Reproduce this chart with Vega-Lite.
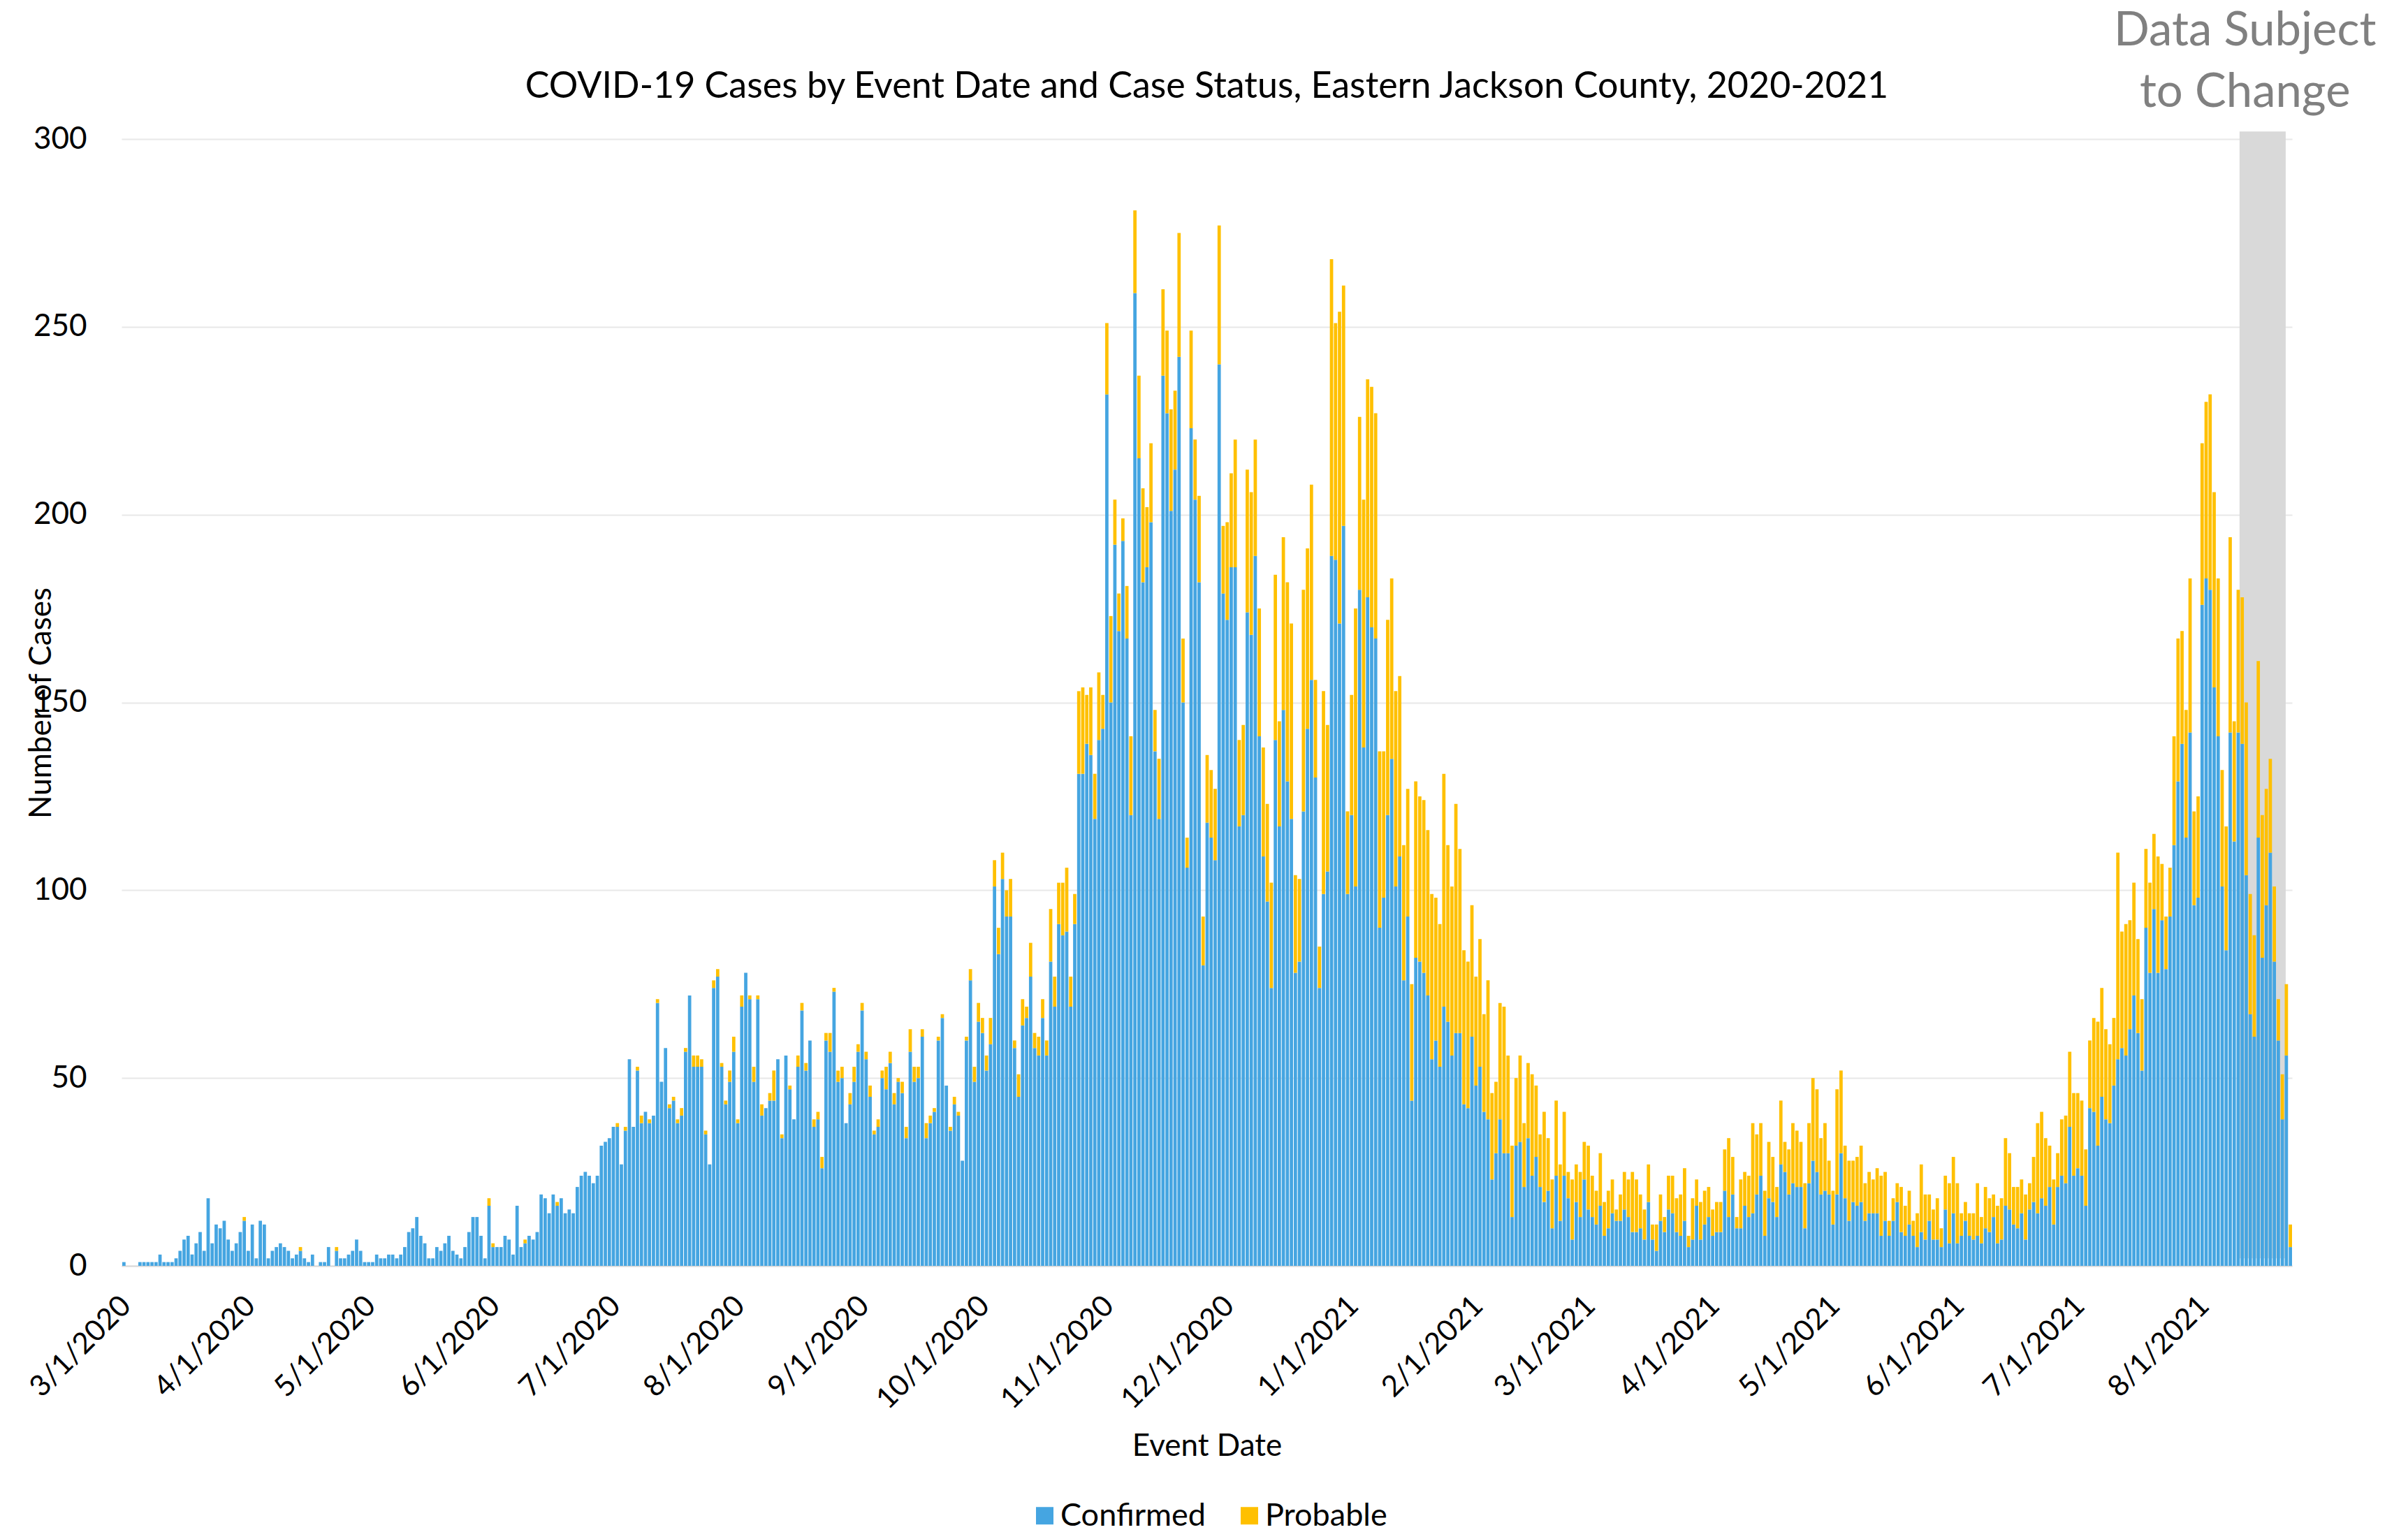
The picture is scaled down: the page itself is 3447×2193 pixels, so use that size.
{
  "$schema": "https://vega.github.io/schema/vega-lite/v6.json",
  "width": 3107,
  "height": 1613,
  "autosize": {"type": "pad"},
  "padding": {"left": 34, "top": 11, "right": 0, "bottom": 0},
  "background": "white",
  "config": {"view": {"stroke": null}, "font": "Lato"},
  "title": {"text": "COVID-19 Cases by Event Date and Case Status, Eastern Jackson County, 2020-2021", "fontSize": 52, "font": "Lato", "fontWeight": "normal", "color": "black", "anchor": "middle", "frame": "group", "offset": -140},
  "datasets": {
    "cases": [
{"d":"2020-03-01","Confirmed":1,"Probable":0},{"d":"2020-03-02","Confirmed":0,"Probable":0},{"d":"2020-03-03","Confirmed":0,"Probable":0},{"d":"2020-03-04","Confirmed":0,"Probable":0},{"d":"2020-03-05","Confirmed":1,"Probable":0},{"d":"2020-03-06","Confirmed":1,"Probable":0},{"d":"2020-03-07","Confirmed":1,"Probable":0},{"d":"2020-03-08","Confirmed":1,"Probable":0},{"d":"2020-03-09","Confirmed":1,"Probable":0},{"d":"2020-03-10","Confirmed":3,"Probable":0},{"d":"2020-03-11","Confirmed":1,"Probable":0},{"d":"2020-03-12","Confirmed":1,"Probable":0},{"d":"2020-03-13","Confirmed":1,"Probable":0},{"d":"2020-03-14","Confirmed":2,"Probable":0},{"d":"2020-03-15","Confirmed":4,"Probable":0},{"d":"2020-03-16","Confirmed":7,"Probable":0},{"d":"2020-03-17","Confirmed":8,"Probable":0},{"d":"2020-03-18","Confirmed":3,"Probable":0},{"d":"2020-03-19","Confirmed":6,"Probable":0},{"d":"2020-03-20","Confirmed":9,"Probable":0},{"d":"2020-03-21","Confirmed":4,"Probable":0},{"d":"2020-03-22","Confirmed":18,"Probable":0},{"d":"2020-03-23","Confirmed":6,"Probable":0},{"d":"2020-03-24","Confirmed":11,"Probable":0},{"d":"2020-03-25","Confirmed":10,"Probable":0},{"d":"2020-03-26","Confirmed":12,"Probable":0},{"d":"2020-03-27","Confirmed":7,"Probable":0},{"d":"2020-03-28","Confirmed":4,"Probable":0},{"d":"2020-03-29","Confirmed":6,"Probable":0},{"d":"2020-03-30","Confirmed":9,"Probable":0},{"d":"2020-03-31","Confirmed":12,"Probable":1},
{"d":"2020-04-01","Confirmed":4,"Probable":0},{"d":"2020-04-02","Confirmed":11,"Probable":0},{"d":"2020-04-03","Confirmed":2,"Probable":0},{"d":"2020-04-04","Confirmed":12,"Probable":0},{"d":"2020-04-05","Confirmed":11,"Probable":0},{"d":"2020-04-06","Confirmed":2,"Probable":0},{"d":"2020-04-07","Confirmed":4,"Probable":0},{"d":"2020-04-08","Confirmed":5,"Probable":0},{"d":"2020-04-09","Confirmed":6,"Probable":0},{"d":"2020-04-10","Confirmed":5,"Probable":0},{"d":"2020-04-11","Confirmed":4,"Probable":0},{"d":"2020-04-12","Confirmed":2,"Probable":0},{"d":"2020-04-13","Confirmed":3,"Probable":0},{"d":"2020-04-14","Confirmed":4,"Probable":1},{"d":"2020-04-15","Confirmed":2,"Probable":0},{"d":"2020-04-16","Confirmed":1,"Probable":0},{"d":"2020-04-17","Confirmed":3,"Probable":0},{"d":"2020-04-18","Confirmed":0,"Probable":0},{"d":"2020-04-19","Confirmed":1,"Probable":0},{"d":"2020-04-20","Confirmed":1,"Probable":0},{"d":"2020-04-21","Confirmed":5,"Probable":0},{"d":"2020-04-22","Confirmed":0,"Probable":0},{"d":"2020-04-23","Confirmed":4,"Probable":1},{"d":"2020-04-24","Confirmed":2,"Probable":0},{"d":"2020-04-25","Confirmed":2,"Probable":0},{"d":"2020-04-26","Confirmed":3,"Probable":0},{"d":"2020-04-27","Confirmed":4,"Probable":0},{"d":"2020-04-28","Confirmed":7,"Probable":0},{"d":"2020-04-29","Confirmed":4,"Probable":0},{"d":"2020-04-30","Confirmed":1,"Probable":0},
{"d":"2020-05-01","Confirmed":1,"Probable":0},{"d":"2020-05-02","Confirmed":1,"Probable":0},{"d":"2020-05-03","Confirmed":3,"Probable":0},{"d":"2020-05-04","Confirmed":2,"Probable":0},{"d":"2020-05-05","Confirmed":2,"Probable":0},{"d":"2020-05-06","Confirmed":3,"Probable":0},{"d":"2020-05-07","Confirmed":3,"Probable":0},{"d":"2020-05-08","Confirmed":2,"Probable":0},{"d":"2020-05-09","Confirmed":3,"Probable":0},{"d":"2020-05-10","Confirmed":5,"Probable":0},{"d":"2020-05-11","Confirmed":9,"Probable":0},{"d":"2020-05-12","Confirmed":10,"Probable":0},{"d":"2020-05-13","Confirmed":13,"Probable":0},{"d":"2020-05-14","Confirmed":8,"Probable":0},{"d":"2020-05-15","Confirmed":6,"Probable":0},{"d":"2020-05-16","Confirmed":2,"Probable":0},{"d":"2020-05-17","Confirmed":2,"Probable":0},{"d":"2020-05-18","Confirmed":5,"Probable":0},{"d":"2020-05-19","Confirmed":4,"Probable":0},{"d":"2020-05-20","Confirmed":6,"Probable":0},{"d":"2020-05-21","Confirmed":8,"Probable":0},{"d":"2020-05-22","Confirmed":4,"Probable":0},{"d":"2020-05-23","Confirmed":3,"Probable":0},{"d":"2020-05-24","Confirmed":2,"Probable":0},{"d":"2020-05-25","Confirmed":5,"Probable":0},{"d":"2020-05-26","Confirmed":9,"Probable":0},{"d":"2020-05-27","Confirmed":13,"Probable":0},{"d":"2020-05-28","Confirmed":13,"Probable":0},{"d":"2020-05-29","Confirmed":8,"Probable":0},{"d":"2020-05-30","Confirmed":2,"Probable":0},{"d":"2020-05-31","Confirmed":16,"Probable":2},
{"d":"2020-06-01","Confirmed":5,"Probable":1},{"d":"2020-06-02","Confirmed":5,"Probable":0},{"d":"2020-06-03","Confirmed":5,"Probable":0},{"d":"2020-06-04","Confirmed":8,"Probable":0},{"d":"2020-06-05","Confirmed":7,"Probable":0},{"d":"2020-06-06","Confirmed":3,"Probable":0},{"d":"2020-06-07","Confirmed":16,"Probable":0},{"d":"2020-06-08","Confirmed":5,"Probable":0},{"d":"2020-06-09","Confirmed":6,"Probable":1},{"d":"2020-06-10","Confirmed":8,"Probable":0},{"d":"2020-06-11","Confirmed":7,"Probable":0},{"d":"2020-06-12","Confirmed":9,"Probable":0},{"d":"2020-06-13","Confirmed":19,"Probable":0},{"d":"2020-06-14","Confirmed":18,"Probable":0},{"d":"2020-06-15","Confirmed":14,"Probable":0},{"d":"2020-06-16","Confirmed":19,"Probable":0},{"d":"2020-06-17","Confirmed":16,"Probable":1},{"d":"2020-06-18","Confirmed":18,"Probable":0},{"d":"2020-06-19","Confirmed":14,"Probable":0},{"d":"2020-06-20","Confirmed":15,"Probable":0},{"d":"2020-06-21","Confirmed":14,"Probable":0},{"d":"2020-06-22","Confirmed":21,"Probable":0},{"d":"2020-06-23","Confirmed":24,"Probable":0},{"d":"2020-06-24","Confirmed":25,"Probable":0},{"d":"2020-06-25","Confirmed":24,"Probable":0},{"d":"2020-06-26","Confirmed":22,"Probable":0},{"d":"2020-06-27","Confirmed":24,"Probable":0},{"d":"2020-06-28","Confirmed":32,"Probable":0},{"d":"2020-06-29","Confirmed":33,"Probable":0},{"d":"2020-06-30","Confirmed":34,"Probable":0},
{"d":"2020-07-01","Confirmed":37,"Probable":0},{"d":"2020-07-02","Confirmed":37,"Probable":1},{"d":"2020-07-03","Confirmed":27,"Probable":0},{"d":"2020-07-04","Confirmed":36,"Probable":1},{"d":"2020-07-05","Confirmed":55,"Probable":0},{"d":"2020-07-06","Confirmed":37,"Probable":0},{"d":"2020-07-07","Confirmed":52,"Probable":1},{"d":"2020-07-08","Confirmed":38,"Probable":2},{"d":"2020-07-09","Confirmed":41,"Probable":0},{"d":"2020-07-10","Confirmed":38,"Probable":1},{"d":"2020-07-11","Confirmed":40,"Probable":0},{"d":"2020-07-12","Confirmed":70,"Probable":1},{"d":"2020-07-13","Confirmed":49,"Probable":0},{"d":"2020-07-14","Confirmed":58,"Probable":0},{"d":"2020-07-15","Confirmed":42,"Probable":1},{"d":"2020-07-16","Confirmed":44,"Probable":1},{"d":"2020-07-17","Confirmed":38,"Probable":1},{"d":"2020-07-18","Confirmed":40,"Probable":2},{"d":"2020-07-19","Confirmed":57,"Probable":1},{"d":"2020-07-20","Confirmed":72,"Probable":0},{"d":"2020-07-21","Confirmed":53,"Probable":3},{"d":"2020-07-22","Confirmed":53,"Probable":3},{"d":"2020-07-23","Confirmed":53,"Probable":2},{"d":"2020-07-24","Confirmed":35,"Probable":1},{"d":"2020-07-25","Confirmed":27,"Probable":0},{"d":"2020-07-26","Confirmed":74,"Probable":2},{"d":"2020-07-27","Confirmed":77,"Probable":2},{"d":"2020-07-28","Confirmed":53,"Probable":1},{"d":"2020-07-29","Confirmed":43,"Probable":1},{"d":"2020-07-30","Confirmed":49,"Probable":3},{"d":"2020-07-31","Confirmed":57,"Probable":4},
{"d":"2020-08-01","Confirmed":38,"Probable":1},{"d":"2020-08-02","Confirmed":69,"Probable":3},{"d":"2020-08-03","Confirmed":78,"Probable":0},{"d":"2020-08-04","Confirmed":71,"Probable":1},{"d":"2020-08-05","Confirmed":49,"Probable":4},{"d":"2020-08-06","Confirmed":71,"Probable":1},{"d":"2020-08-07","Confirmed":40,"Probable":3},{"d":"2020-08-08","Confirmed":42,"Probable":0},{"d":"2020-08-09","Confirmed":44,"Probable":2},{"d":"2020-08-10","Confirmed":44,"Probable":8},{"d":"2020-08-11","Confirmed":55,"Probable":0},{"d":"2020-08-12","Confirmed":34,"Probable":1},{"d":"2020-08-13","Confirmed":56,"Probable":0},{"d":"2020-08-14","Confirmed":47,"Probable":1},{"d":"2020-08-15","Confirmed":39,"Probable":0},{"d":"2020-08-16","Confirmed":53,"Probable":3},{"d":"2020-08-17","Confirmed":68,"Probable":2},{"d":"2020-08-18","Confirmed":52,"Probable":2},{"d":"2020-08-19","Confirmed":60,"Probable":0},{"d":"2020-08-20","Confirmed":37,"Probable":2},{"d":"2020-08-21","Confirmed":39,"Probable":2},{"d":"2020-08-22","Confirmed":26,"Probable":3},{"d":"2020-08-23","Confirmed":60,"Probable":2},{"d":"2020-08-24","Confirmed":57,"Probable":5},{"d":"2020-08-25","Confirmed":73,"Probable":1},{"d":"2020-08-26","Confirmed":49,"Probable":3},{"d":"2020-08-27","Confirmed":50,"Probable":3},{"d":"2020-08-28","Confirmed":38,"Probable":0},{"d":"2020-08-29","Confirmed":43,"Probable":3},{"d":"2020-08-30","Confirmed":49,"Probable":4},{"d":"2020-08-31","Confirmed":57,"Probable":2},
{"d":"2020-09-01","Confirmed":68,"Probable":2},{"d":"2020-09-02","Confirmed":55,"Probable":2},{"d":"2020-09-03","Confirmed":45,"Probable":3},{"d":"2020-09-04","Confirmed":35,"Probable":1},{"d":"2020-09-05","Confirmed":37,"Probable":2},{"d":"2020-09-06","Confirmed":50,"Probable":2},{"d":"2020-09-07","Confirmed":47,"Probable":6},{"d":"2020-09-08","Confirmed":54,"Probable":3},{"d":"2020-09-09","Confirmed":43,"Probable":3},{"d":"2020-09-10","Confirmed":49,"Probable":1},{"d":"2020-09-11","Confirmed":46,"Probable":3},{"d":"2020-09-12","Confirmed":34,"Probable":3},{"d":"2020-09-13","Confirmed":57,"Probable":6},{"d":"2020-09-14","Confirmed":49,"Probable":4},{"d":"2020-09-15","Confirmed":50,"Probable":3},{"d":"2020-09-16","Confirmed":61,"Probable":2},{"d":"2020-09-17","Confirmed":34,"Probable":4},{"d":"2020-09-18","Confirmed":38,"Probable":2},{"d":"2020-09-19","Confirmed":41,"Probable":1},{"d":"2020-09-20","Confirmed":60,"Probable":1},{"d":"2020-09-21","Confirmed":66,"Probable":1},{"d":"2020-09-22","Confirmed":48,"Probable":0},{"d":"2020-09-23","Confirmed":36,"Probable":1},{"d":"2020-09-24","Confirmed":43,"Probable":2},{"d":"2020-09-25","Confirmed":40,"Probable":1},{"d":"2020-09-26","Confirmed":28,"Probable":0},{"d":"2020-09-27","Confirmed":60,"Probable":1},{"d":"2020-09-28","Confirmed":76,"Probable":3},{"d":"2020-09-29","Confirmed":49,"Probable":4},{"d":"2020-09-30","Confirmed":65,"Probable":5},
{"d":"2020-10-01","Confirmed":62,"Probable":4},{"d":"2020-10-02","Confirmed":52,"Probable":4},{"d":"2020-10-03","Confirmed":59,"Probable":7},{"d":"2020-10-04","Confirmed":101,"Probable":7},{"d":"2020-10-05","Confirmed":83,"Probable":7},{"d":"2020-10-06","Confirmed":103,"Probable":7},{"d":"2020-10-07","Confirmed":93,"Probable":7},{"d":"2020-10-08","Confirmed":93,"Probable":10},{"d":"2020-10-09","Confirmed":58,"Probable":2},{"d":"2020-10-10","Confirmed":45,"Probable":6},{"d":"2020-10-11","Confirmed":64,"Probable":7},{"d":"2020-10-12","Confirmed":66,"Probable":3},{"d":"2020-10-13","Confirmed":77,"Probable":9},{"d":"2020-10-14","Confirmed":58,"Probable":4},{"d":"2020-10-15","Confirmed":56,"Probable":5},{"d":"2020-10-16","Confirmed":66,"Probable":5},{"d":"2020-10-17","Confirmed":56,"Probable":4},{"d":"2020-10-18","Confirmed":81,"Probable":14},{"d":"2020-10-19","Confirmed":69,"Probable":8},{"d":"2020-10-20","Confirmed":91,"Probable":11},{"d":"2020-10-21","Confirmed":88,"Probable":14},{"d":"2020-10-22","Confirmed":89,"Probable":17},{"d":"2020-10-23","Confirmed":69,"Probable":8},{"d":"2020-10-24","Confirmed":91,"Probable":8},{"d":"2020-10-25","Confirmed":131,"Probable":22},{"d":"2020-10-26","Confirmed":131,"Probable":23},{"d":"2020-10-27","Confirmed":139,"Probable":13},{"d":"2020-10-28","Confirmed":136,"Probable":18},{"d":"2020-10-29","Confirmed":119,"Probable":12},{"d":"2020-10-30","Confirmed":140,"Probable":18},{"d":"2020-10-31","Confirmed":143,"Probable":9},
{"d":"2020-11-01","Confirmed":232,"Probable":19},{"d":"2020-11-02","Confirmed":150,"Probable":23},{"d":"2020-11-03","Confirmed":192,"Probable":12},{"d":"2020-11-04","Confirmed":169,"Probable":10},{"d":"2020-11-05","Confirmed":193,"Probable":6},{"d":"2020-11-06","Confirmed":167,"Probable":14},{"d":"2020-11-07","Confirmed":120,"Probable":21},{"d":"2020-11-08","Confirmed":259,"Probable":22},{"d":"2020-11-09","Confirmed":215,"Probable":22},{"d":"2020-11-10","Confirmed":182,"Probable":25},{"d":"2020-11-11","Confirmed":186,"Probable":16},{"d":"2020-11-12","Confirmed":198,"Probable":21},{"d":"2020-11-13","Confirmed":137,"Probable":11},{"d":"2020-11-14","Confirmed":119,"Probable":16},{"d":"2020-11-15","Confirmed":237,"Probable":23},{"d":"2020-11-16","Confirmed":227,"Probable":22},{"d":"2020-11-17","Confirmed":201,"Probable":27},{"d":"2020-11-18","Confirmed":212,"Probable":21},{"d":"2020-11-19","Confirmed":242,"Probable":33},{"d":"2020-11-20","Confirmed":150,"Probable":17},{"d":"2020-11-21","Confirmed":106,"Probable":8},{"d":"2020-11-22","Confirmed":223,"Probable":26},{"d":"2020-11-23","Confirmed":204,"Probable":16},{"d":"2020-11-24","Confirmed":182,"Probable":23},{"d":"2020-11-25","Confirmed":80,"Probable":13},{"d":"2020-11-26","Confirmed":118,"Probable":18},{"d":"2020-11-27","Confirmed":114,"Probable":18},{"d":"2020-11-28","Confirmed":108,"Probable":19},{"d":"2020-11-29","Confirmed":240,"Probable":37},{"d":"2020-11-30","Confirmed":179,"Probable":18},
{"d":"2020-12-01","Confirmed":172,"Probable":26},{"d":"2020-12-02","Confirmed":186,"Probable":25},{"d":"2020-12-03","Confirmed":186,"Probable":34},{"d":"2020-12-04","Confirmed":117,"Probable":23},{"d":"2020-12-05","Confirmed":120,"Probable":24},{"d":"2020-12-06","Confirmed":174,"Probable":38},{"d":"2020-12-07","Confirmed":168,"Probable":38},{"d":"2020-12-08","Confirmed":189,"Probable":31},{"d":"2020-12-09","Confirmed":141,"Probable":34},{"d":"2020-12-10","Confirmed":109,"Probable":29},{"d":"2020-12-11","Confirmed":97,"Probable":26},{"d":"2020-12-12","Confirmed":74,"Probable":28},{"d":"2020-12-13","Confirmed":140,"Probable":44},{"d":"2020-12-14","Confirmed":117,"Probable":28},{"d":"2020-12-15","Confirmed":148,"Probable":46},{"d":"2020-12-16","Confirmed":129,"Probable":53},{"d":"2020-12-17","Confirmed":119,"Probable":52},{"d":"2020-12-18","Confirmed":78,"Probable":26},{"d":"2020-12-19","Confirmed":81,"Probable":22},{"d":"2020-12-20","Confirmed":121,"Probable":59},{"d":"2020-12-21","Confirmed":143,"Probable":48},{"d":"2020-12-22","Confirmed":156,"Probable":52},{"d":"2020-12-23","Confirmed":130,"Probable":26},{"d":"2020-12-24","Confirmed":74,"Probable":11},{"d":"2020-12-25","Confirmed":99,"Probable":54},{"d":"2020-12-26","Confirmed":105,"Probable":39},{"d":"2020-12-27","Confirmed":189,"Probable":79},{"d":"2020-12-28","Confirmed":188,"Probable":63},{"d":"2020-12-29","Confirmed":171,"Probable":83},{"d":"2020-12-30","Confirmed":197,"Probable":64},{"d":"2020-12-31","Confirmed":99,"Probable":22},
{"d":"2021-01-01","Confirmed":120,"Probable":32},{"d":"2021-01-02","Confirmed":101,"Probable":74},{"d":"2021-01-03","Confirmed":180,"Probable":46},{"d":"2021-01-04","Confirmed":138,"Probable":66},{"d":"2021-01-05","Confirmed":178,"Probable":58},{"d":"2021-01-06","Confirmed":170,"Probable":64},{"d":"2021-01-07","Confirmed":167,"Probable":60},{"d":"2021-01-08","Confirmed":90,"Probable":47},{"d":"2021-01-09","Confirmed":98,"Probable":39},{"d":"2021-01-10","Confirmed":120,"Probable":52},{"d":"2021-01-11","Confirmed":135,"Probable":48},{"d":"2021-01-12","Confirmed":101,"Probable":52},{"d":"2021-01-13","Confirmed":109,"Probable":48},{"d":"2021-01-14","Confirmed":76,"Probable":36},{"d":"2021-01-15","Confirmed":93,"Probable":34},{"d":"2021-01-16","Confirmed":44,"Probable":31},{"d":"2021-01-17","Confirmed":82,"Probable":47},{"d":"2021-01-18","Confirmed":81,"Probable":44},{"d":"2021-01-19","Confirmed":78,"Probable":46},{"d":"2021-01-20","Confirmed":72,"Probable":44},{"d":"2021-01-21","Confirmed":55,"Probable":44},{"d":"2021-01-22","Confirmed":60,"Probable":38},{"d":"2021-01-23","Confirmed":53,"Probable":38},{"d":"2021-01-24","Confirmed":69,"Probable":62},{"d":"2021-01-25","Confirmed":65,"Probable":47},{"d":"2021-01-26","Confirmed":56,"Probable":45},{"d":"2021-01-27","Confirmed":62,"Probable":61},{"d":"2021-01-28","Confirmed":62,"Probable":49},{"d":"2021-01-29","Confirmed":43,"Probable":41},{"d":"2021-01-30","Confirmed":42,"Probable":39},{"d":"2021-01-31","Confirmed":61,"Probable":35},
{"d":"2021-02-01","Confirmed":48,"Probable":29},{"d":"2021-02-02","Confirmed":53,"Probable":34},{"d":"2021-02-03","Confirmed":41,"Probable":26},{"d":"2021-02-04","Confirmed":39,"Probable":37},{"d":"2021-02-05","Confirmed":23,"Probable":23},{"d":"2021-02-06","Confirmed":30,"Probable":19},{"d":"2021-02-07","Confirmed":39,"Probable":31},{"d":"2021-02-08","Confirmed":30,"Probable":39},{"d":"2021-02-09","Confirmed":30,"Probable":26},{"d":"2021-02-10","Confirmed":13,"Probable":19},{"d":"2021-02-11","Confirmed":32,"Probable":18},{"d":"2021-02-12","Confirmed":33,"Probable":23},{"d":"2021-02-13","Confirmed":21,"Probable":17},{"d":"2021-02-14","Confirmed":34,"Probable":20},{"d":"2021-02-15","Confirmed":24,"Probable":27},{"d":"2021-02-16","Confirmed":29,"Probable":19},{"d":"2021-02-17","Confirmed":21,"Probable":14},{"d":"2021-02-18","Confirmed":17,"Probable":24},{"d":"2021-02-19","Confirmed":20,"Probable":14},{"d":"2021-02-20","Confirmed":10,"Probable":13},{"d":"2021-02-21","Confirmed":24,"Probable":20},{"d":"2021-02-22","Confirmed":12,"Probable":15},{"d":"2021-02-23","Confirmed":24,"Probable":17},{"d":"2021-02-24","Confirmed":18,"Probable":7},{"d":"2021-02-25","Confirmed":7,"Probable":16},{"d":"2021-02-26","Confirmed":17,"Probable":10},{"d":"2021-02-27","Confirmed":13,"Probable":12},{"d":"2021-02-28","Confirmed":23,"Probable":10},
{"d":"2021-03-01","Confirmed":15,"Probable":17},{"d":"2021-03-02","Confirmed":13,"Probable":11},{"d":"2021-03-03","Confirmed":11,"Probable":9},{"d":"2021-03-04","Confirmed":16,"Probable":14},{"d":"2021-03-05","Confirmed":8,"Probable":9},{"d":"2021-03-06","Confirmed":10,"Probable":10},{"d":"2021-03-07","Confirmed":14,"Probable":9},{"d":"2021-03-08","Confirmed":12,"Probable":3},{"d":"2021-03-09","Confirmed":12,"Probable":7},{"d":"2021-03-10","Confirmed":15,"Probable":10},{"d":"2021-03-11","Confirmed":13,"Probable":10},{"d":"2021-03-12","Confirmed":9,"Probable":16},{"d":"2021-03-13","Confirmed":9,"Probable":14},{"d":"2021-03-14","Confirmed":10,"Probable":9},{"d":"2021-03-15","Confirmed":7,"Probable":8},{"d":"2021-03-16","Confirmed":17,"Probable":10},{"d":"2021-03-17","Confirmed":7,"Probable":4},{"d":"2021-03-18","Confirmed":4,"Probable":7},{"d":"2021-03-19","Confirmed":12,"Probable":7},{"d":"2021-03-20","Confirmed":9,"Probable":4},{"d":"2021-03-21","Confirmed":15,"Probable":9},{"d":"2021-03-22","Confirmed":14,"Probable":10},{"d":"2021-03-23","Confirmed":9,"Probable":9},{"d":"2021-03-24","Confirmed":8,"Probable":11},{"d":"2021-03-25","Confirmed":12,"Probable":14},{"d":"2021-03-26","Confirmed":5,"Probable":3},{"d":"2021-03-27","Confirmed":7,"Probable":11},{"d":"2021-03-28","Confirmed":16,"Probable":7},{"d":"2021-03-29","Confirmed":7,"Probable":10},{"d":"2021-03-30","Confirmed":11,"Probable":9},{"d":"2021-03-31","Confirmed":13,"Probable":8},
{"d":"2021-04-01","Confirmed":8,"Probable":7},{"d":"2021-04-02","Confirmed":9,"Probable":8},{"d":"2021-04-03","Confirmed":9,"Probable":8},{"d":"2021-04-04","Confirmed":20,"Probable":11},{"d":"2021-04-05","Confirmed":13,"Probable":21},{"d":"2021-04-06","Confirmed":19,"Probable":10},{"d":"2021-04-07","Confirmed":10,"Probable":3},{"d":"2021-04-08","Confirmed":10,"Probable":13},{"d":"2021-04-09","Confirmed":16,"Probable":9},{"d":"2021-04-10","Confirmed":13,"Probable":11},{"d":"2021-04-11","Confirmed":14,"Probable":24},{"d":"2021-04-12","Confirmed":19,"Probable":16},{"d":"2021-04-13","Confirmed":24,"Probable":14},{"d":"2021-04-14","Confirmed":8,"Probable":12},{"d":"2021-04-15","Confirmed":18,"Probable":15},{"d":"2021-04-16","Confirmed":17,"Probable":12},{"d":"2021-04-17","Confirmed":13,"Probable":8},{"d":"2021-04-18","Confirmed":27,"Probable":17},{"d":"2021-04-19","Confirmed":25,"Probable":8},{"d":"2021-04-20","Confirmed":19,"Probable":12},{"d":"2021-04-21","Confirmed":22,"Probable":16},{"d":"2021-04-22","Confirmed":21,"Probable":15},{"d":"2021-04-23","Confirmed":21,"Probable":12},{"d":"2021-04-24","Confirmed":10,"Probable":12},{"d":"2021-04-25","Confirmed":22,"Probable":16},{"d":"2021-04-26","Confirmed":28,"Probable":22},{"d":"2021-04-27","Confirmed":25,"Probable":22},{"d":"2021-04-28","Confirmed":19,"Probable":15},{"d":"2021-04-29","Confirmed":20,"Probable":18},{"d":"2021-04-30","Confirmed":19,"Probable":9},
{"d":"2021-05-01","Confirmed":11,"Probable":9},{"d":"2021-05-02","Confirmed":19,"Probable":28},{"d":"2021-05-03","Confirmed":30,"Probable":22},{"d":"2021-05-04","Confirmed":18,"Probable":14},{"d":"2021-05-05","Confirmed":12,"Probable":16},{"d":"2021-05-06","Confirmed":17,"Probable":11},{"d":"2021-05-07","Confirmed":16,"Probable":13},{"d":"2021-05-08","Confirmed":17,"Probable":15},{"d":"2021-05-09","Confirmed":12,"Probable":10},{"d":"2021-05-10","Confirmed":14,"Probable":11},{"d":"2021-05-11","Confirmed":14,"Probable":9},{"d":"2021-05-12","Confirmed":14,"Probable":12},{"d":"2021-05-13","Confirmed":8,"Probable":16},{"d":"2021-05-14","Confirmed":12,"Probable":13},{"d":"2021-05-15","Confirmed":8,"Probable":4},{"d":"2021-05-16","Confirmed":12,"Probable":6},{"d":"2021-05-17","Confirmed":17,"Probable":5},{"d":"2021-05-18","Confirmed":9,"Probable":12},{"d":"2021-05-19","Confirmed":8,"Probable":8},{"d":"2021-05-20","Confirmed":11,"Probable":9},{"d":"2021-05-21","Confirmed":8,"Probable":4},{"d":"2021-05-22","Confirmed":5,"Probable":9},{"d":"2021-05-23","Confirmed":9,"Probable":18},{"d":"2021-05-24","Confirmed":7,"Probable":12},{"d":"2021-05-25","Confirmed":12,"Probable":7},{"d":"2021-05-26","Confirmed":7,"Probable":8},{"d":"2021-05-27","Confirmed":7,"Probable":11},{"d":"2021-05-28","Confirmed":5,"Probable":5},{"d":"2021-05-29","Confirmed":15,"Probable":9},{"d":"2021-05-30","Confirmed":6,"Probable":16},{"d":"2021-05-31","Confirmed":14,"Probable":15},
{"d":"2021-06-01","Confirmed":6,"Probable":16},{"d":"2021-06-02","Confirmed":8,"Probable":6},{"d":"2021-06-03","Confirmed":12,"Probable":5},{"d":"2021-06-04","Confirmed":8,"Probable":6},{"d":"2021-06-05","Confirmed":7,"Probable":7},{"d":"2021-06-06","Confirmed":8,"Probable":14},{"d":"2021-06-07","Confirmed":6,"Probable":7},{"d":"2021-06-08","Confirmed":10,"Probable":11},{"d":"2021-06-09","Confirmed":9,"Probable":9},{"d":"2021-06-10","Confirmed":13,"Probable":6},{"d":"2021-06-11","Confirmed":6,"Probable":10},{"d":"2021-06-12","Confirmed":7,"Probable":11},{"d":"2021-06-13","Confirmed":16,"Probable":18},{"d":"2021-06-14","Confirmed":15,"Probable":15},{"d":"2021-06-15","Confirmed":11,"Probable":10},{"d":"2021-06-16","Confirmed":10,"Probable":11},{"d":"2021-06-17","Confirmed":14,"Probable":9},{"d":"2021-06-18","Confirmed":7,"Probable":12},{"d":"2021-06-19","Confirmed":15,"Probable":7},{"d":"2021-06-20","Confirmed":17,"Probable":12},{"d":"2021-06-21","Confirmed":14,"Probable":24},{"d":"2021-06-22","Confirmed":18,"Probable":23},{"d":"2021-06-23","Confirmed":16,"Probable":18},{"d":"2021-06-24","Confirmed":21,"Probable":11},{"d":"2021-06-25","Confirmed":11,"Probable":12},{"d":"2021-06-26","Confirmed":21,"Probable":9},{"d":"2021-06-27","Confirmed":24,"Probable":15},{"d":"2021-06-28","Confirmed":22,"Probable":18},{"d":"2021-06-29","Confirmed":37,"Probable":20},{"d":"2021-06-30","Confirmed":24,"Probable":22},
{"d":"2021-07-01","Confirmed":26,"Probable":20},{"d":"2021-07-02","Confirmed":24,"Probable":20},{"d":"2021-07-03","Confirmed":16,"Probable":15},{"d":"2021-07-04","Confirmed":42,"Probable":18},{"d":"2021-07-05","Confirmed":41,"Probable":25},{"d":"2021-07-06","Confirmed":32,"Probable":33},{"d":"2021-07-07","Confirmed":45,"Probable":29},{"d":"2021-07-08","Confirmed":39,"Probable":24},{"d":"2021-07-09","Confirmed":38,"Probable":21},{"d":"2021-07-10","Confirmed":48,"Probable":18},{"d":"2021-07-11","Confirmed":55,"Probable":55},{"d":"2021-07-12","Confirmed":58,"Probable":31},{"d":"2021-07-13","Confirmed":56,"Probable":35},{"d":"2021-07-14","Confirmed":63,"Probable":29},{"d":"2021-07-15","Confirmed":72,"Probable":30},{"d":"2021-07-16","Confirmed":62,"Probable":25},{"d":"2021-07-17","Confirmed":52,"Probable":19},{"d":"2021-07-18","Confirmed":90,"Probable":21},{"d":"2021-07-19","Confirmed":78,"Probable":24},{"d":"2021-07-20","Confirmed":95,"Probable":20},{"d":"2021-07-21","Confirmed":78,"Probable":31},{"d":"2021-07-22","Confirmed":92,"Probable":15},{"d":"2021-07-23","Confirmed":79,"Probable":14},{"d":"2021-07-24","Confirmed":93,"Probable":13},{"d":"2021-07-25","Confirmed":112,"Probable":29},{"d":"2021-07-26","Confirmed":129,"Probable":38},{"d":"2021-07-27","Confirmed":139,"Probable":30},{"d":"2021-07-28","Confirmed":114,"Probable":34},{"d":"2021-07-29","Confirmed":142,"Probable":41},{"d":"2021-07-30","Confirmed":96,"Probable":25},{"d":"2021-07-31","Confirmed":98,"Probable":27},
{"d":"2021-08-01","Confirmed":176,"Probable":43},{"d":"2021-08-02","Confirmed":183,"Probable":47},{"d":"2021-08-03","Confirmed":180,"Probable":52},{"d":"2021-08-04","Confirmed":154,"Probable":52},{"d":"2021-08-05","Confirmed":141,"Probable":42},{"d":"2021-08-06","Confirmed":101,"Probable":31},{"d":"2021-08-07","Confirmed":84,"Probable":33},{"d":"2021-08-08","Confirmed":142,"Probable":52},{"d":"2021-08-09","Confirmed":113,"Probable":32},{"d":"2021-08-10","Confirmed":142,"Probable":38},{"d":"2021-08-11","Confirmed":139,"Probable":39},{"d":"2021-08-12","Confirmed":104,"Probable":46},{"d":"2021-08-13","Confirmed":67,"Probable":32},{"d":"2021-08-14","Confirmed":61,"Probable":27},{"d":"2021-08-15","Confirmed":114,"Probable":47},{"d":"2021-08-16","Confirmed":82,"Probable":38},{"d":"2021-08-17","Confirmed":96,"Probable":31},{"d":"2021-08-18","Confirmed":110,"Probable":25},{"d":"2021-08-19","Confirmed":81,"Probable":20},{"d":"2021-08-20","Confirmed":60,"Probable":11},{"d":"2021-08-21","Confirmed":39,"Probable":12},{"d":"2021-08-22","Confirmed":56,"Probable":19},{"d":"2021-08-23","Confirmed":5,"Probable":6}
    ]
  },
  "layer": [
    {
      "data": {"values": [{}]},
      "mark": {"type": "rect", "color": "#D9D9D9"},
      "encoding": {
        "x": {"datum": {"year": 2021, "month": 8, "date": 10, "hours": 22, "utc": true}, "type": "temporal", "title": "Event Date", "scale": {"type": "utc"}},
        "x2": {"datum": {"year": 2021, "month": 8, "date": 22, "hours": 10, "utc": true}},
        "y": {"datum": 2, "type": "quantitative", "title": "Number of Cases"},
        "y2": {"datum": 302}
      }
    },
    {
      "data": {"name": "cases"},
      "transform": [{"fold": ["Confirmed", "Probable"], "as": ["Status", "Cases"]}],
      "mark": {"type": "bar", "timeUnitBandSize": 0.76},
      "encoding": {
        "x": {
          "field": "d", "timeUnit": "utcyearmonthdate", "type": "temporal", "title": "Event Date",
          "scale": {"type": "utc", "domain": [{"year": 2020, "month": 3, "date": 1, "utc": true}, {"year": 2021, "month": 8, "date": 24, "utc": true}], "nice": false},
          "axis": {
            "values": [
              {"year": 2020, "month": 3, "date": 1, "hours": 12, "utc": true},
              {"year": 2020, "month": 4, "date": 1, "hours": 12, "utc": true},
              {"year": 2020, "month": 5, "date": 1, "hours": 12, "utc": true},
              {"year": 2020, "month": 6, "date": 1, "hours": 12, "utc": true},
              {"year": 2020, "month": 7, "date": 1, "hours": 12, "utc": true},
              {"year": 2020, "month": 8, "date": 1, "hours": 12, "utc": true},
              {"year": 2020, "month": 9, "date": 1, "hours": 12, "utc": true},
              {"year": 2020, "month": 10, "date": 1, "hours": 12, "utc": true},
              {"year": 2020, "month": 11, "date": 1, "hours": 12, "utc": true},
              {"year": 2020, "month": 12, "date": 1, "hours": 12, "utc": true},
              {"year": 2021, "month": 1, "date": 1, "hours": 12, "utc": true},
              {"year": 2021, "month": 2, "date": 1, "hours": 12, "utc": true},
              {"year": 2021, "month": 3, "date": 1, "hours": 12, "utc": true},
              {"year": 2021, "month": 4, "date": 1, "hours": 12, "utc": true},
              {"year": 2021, "month": 5, "date": 1, "hours": 12, "utc": true},
              {"year": 2021, "month": 6, "date": 1, "hours": 12, "utc": true},
              {"year": 2021, "month": 7, "date": 1, "hours": 12, "utc": true},
              {"year": 2021, "month": 8, "date": 1, "hours": 12, "utc": true}
            ],
            "format": "%-m/%-d/%Y",
            "labelAngle": -45,
            "labelFontSize": 42,
            "labelFont": "Lato",
            "labelColor": "black",
            "labelPadding": 36,
            "labelOffset": -11,
            "labelLimit": 0,
            "labelOverlap": false,
            "labelFlush": false,
            "ticks": false,
            "grid": false,
            "domainColor": "#D9D9D9",
            "domainWidth": 2,
            "titleFontSize": 44,
            "titleFont": "Lato",
            "titleFontWeight": "normal",
            "titleColor": "black",
            "titlePadding": 36
          }
        },
        "y": {
          "field": "Cases", "type": "quantitative", "stack": "zero", "title": "Number of Cases",
          "scale": {"domain": [0, 300], "nice": false},
          "axis": {
            "values": [0, 50, 100, 150, 200, 250, 300],
            "labelFontSize": 44,
            "labelFont": "Lato",
            "labelColor": "black",
            "labelPadding": 50,
            "ticks": false,
            "domain": false,
            "grid": true,
            "gridColor": "#E8E8E8",
            "gridWidth": 2,
            "titleFontSize": 44,
            "titleFont": "Lato",
            "titleFontWeight": "normal",
            "titleColor": "black",
            "titleX": -93,
            "titleY": 807
          }
        },
        "color": {
          "field": "Status", "type": "nominal",
          "scale": {"domain": ["Confirmed", "Probable"], "range": ["#45A5E1", "#FFC000"]},
          "legend": {"orient": "none", "legendX": 1299, "legendY": 1948, "direction": "horizontal", "title": null, "padding": 0, "labelFontSize": 45, "labelFont": "Lato", "labelColor": "black", "labelLimit": 0, "labelOffset": 0, "symbolType": "square", "symbolSize": 625, "symbolStrokeWidth": 0, "columnPadding": 40}
        },
        "order": {"field": "Status", "sort": "ascending"}
      }
    },
    {
      "data": {"values": [{}]},
      "mark": {"type": "text", "text": ["Data Subject", "to Change"], "font": "Lato", "fontSize": 67, "color": "#808080", "align": "center", "baseline": "middle", "lineHeight": 88},
      "encoding": {
        "x": {"datum": {"year": 2021, "month": 8, "date": 12, "hours": 7, "utc": true}, "type": "temporal", "title": "Event Date"},
        "y": {"datum": 328.6, "type": "quantitative", "title": "Number of Cases"}
      }
    }
  ]
}
